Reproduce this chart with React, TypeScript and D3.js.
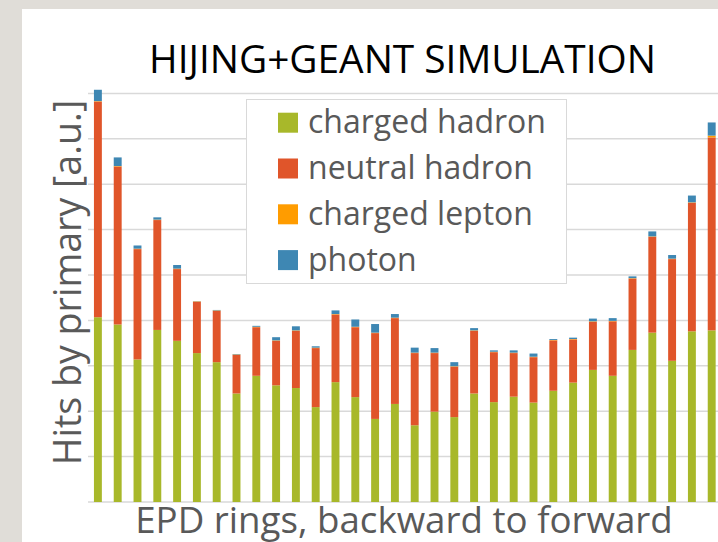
import React from "react";
import * as d3 from "d3";

const rings = ["1","2","3","4","5","6","7","8","9","10","11","12","13","14","15","16","17","18","19","20","21","22","23","24","25","26","27","28","29","30","31","32"];
const chargedHadron = [4.07,3.91,3.14,3.79,3.55,3.28,3.08,2.39,2.78,2.57,2.51,2.09,2.64,2.31,1.83,2.16,1.69,1.99,1.87,2.39,2.20,2.32,2.19,2.45,2.63,2.91,2.78,3.35,3.73,3.11,3.76,3.78];
const neutralHadron = [4.75,3.48,2.43,2.42,1.58,1.13,1.13,0.85,1.07,0.98,1.26,1.30,1.49,1.54,1.89,1.89,1.59,1.29,1.11,1.38,1.10,0.96,1.00,1.11,0.95,1.06,1.20,1.57,2.11,2.24,2.83,4.25];
const chargedLepton = [0.01,0.01,0.01,0.01,0.01,0.01,0.01,0.01,0.01,0.01,0.01,0.01,0.01,0.01,0.01,0.01,0.01,0.01,0.01,0.01,0.01,0.01,0.01,0.01,0.01,0.01,0.01,0.01,0.01,0.01,0.01,0.04];
const photon = [0.25,0.19,0.07,0.05,0.08,0.005,0.01,0.01,0.02,0.07,0.09,0.03,0.08,0.16,0.19,0.08,0.11,0.10,0.09,0.05,0.03,0.05,0.07,0.02,0.03,0.06,0.06,0.04,0.11,0.08,0.15,0.29];
const seriesNames = ["charged hadron", "neutral hadron", "charged lepton", "photon"];
const seriesColors = ["#a8b82a", "#e0552a", "#ff9c00", "#3e87b3"];
const gridTicks = [0,1,2,3,4,5,6,7,8,9];

const W = 718, H = 542;
const FONT = "'Open Sans', Lato, sans-serif";

export default function App() {
  const rows = rings.map((r, i) => ({
    ring: r,
    "charged hadron": chargedHadron[i],
    "neutral hadron": neutralHadron[i],
    "charged lepton": chargedLepton[i],
    "photon": photon[i],
  }));
  const stacked = d3.stack<any>().keys(seriesNames)(rows);
  const x = d3.scaleBand().domain(rings).range([88, 721.6]).paddingInner(0.6).paddingOuter(0.3);
  const y = d3.scaleLinear().domain([0, 9]).range([502, 93.4]);

  return (
    <svg width={W} height={H} style={{ position: "absolute", left: 0, top: 0, display: "block" }}>
      <rect x={0} y={0} width={W} height={H} fill="#e0ddd8" />
      <rect x={22} y={9} width={W - 22} height={H - 9} fill="#ffffff" />
      <text x={402.5} y={73.3} textAnchor="middle" fontFamily={FONT} fontSize={38.8} fill="#000000">HIJING+GEANT SIMULATION</text>
      {gridTicks.map((t) => (
        <line key={t} x1={88} x2={W} y1={y(t)} y2={y(t)} stroke="#d9d9d9" strokeWidth={1.5} />
      ))}
      {stacked.map((s, si) => (
        <g key={s.key} fill={seriesColors[si]}>
          {s.map((d: any, i: number) => (
            <rect key={i} x={x(rings[i])} width={x.bandwidth()} y={y(d[1])} height={Math.max(0, y(d[0]) - y(d[1]))} />
          ))}
        </g>
      ))}
      <rect x={246.5} y={99.5} width={320} height={184} fill="#ffffff" stroke="#d9d9d9" strokeWidth={1} />
      {seriesNames.map((n, i) => (
        <g key={n}>
          <rect x={278} y={112.7 + i * 45.8} width={20} height={20} fill={seriesColors[i]} />
          <text x={308} y={133.3 + i * 45.8} fontFamily={FONT} fontSize={32} fill="#595959">{n}</text>
        </g>
      ))}
      <text transform={`translate(80.7,282.5) rotate(-90)`} textAnchor="middle" fontFamily={FONT} fontSize={37.6} fill="#595959">Hits by primary [a.u.]</text>
      <text x={404} y={533.3} textAnchor="middle" fontFamily={FONT} fontSize={36.7} fill="#595959">EPD rings, backward to forward</text>
    </svg>
  );
}
